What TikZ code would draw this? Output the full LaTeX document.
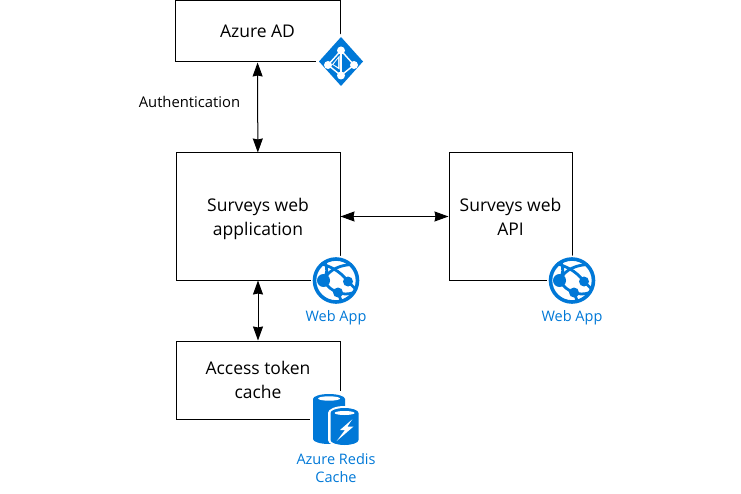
\documentclass[tikz,border=0pt]{standalone}
\usepackage{fontspec}
\setmainfont{Open Sans}
\usetikzlibrary{arrows.meta}
\usetikzlibrary{positioning}
\definecolor{azureblue}{HTML}{0078D7}
\tikzset{
  box node/.style={draw,line width=1pt,fill=white,align=center,font=\fontsize{17.5}{24}\selectfont,inner sep=0pt},
  icon label/.style={text=azureblue,align=center,font=\fontsize{14.5}{18}\selectfont,inner sep=0pt},
  link/.style={{Stealth[length=14pt,width=10pt,inset=1pt]}-{Stealth[length=14pt,width=10pt,inset=1pt]},line width=1pt},
  webapp icon/.pic={
    \fill[white] (0,0) circle (25);
    \draw[azureblue,line width=3.6pt] (0,0) circle (21.5);
    \begin{scope}[azureblue,line width=2.8pt]
      \draw (-12.5,0) .. controls (-9,-7) and (-2,-15) .. (16,-16);
      \draw (-12.5,0) .. controls (-9,-6) and (-8,-13) .. (-11,-18);
      \draw (-15,-17) .. controls (-7,-14) and (3,-11) .. (12,1);
      \draw (-12.5,0) .. controls (-9,6) and (-4,10) .. (2,12);
      \draw (2,12) .. controls (7,14) and (12,14) .. (18,12);
      \draw (2,12) -- (5,20);
      \draw (12,1) -- (19,8);
      \fill (-12.5,0) circle (6.5);
      \fill (12,1) circle (5);
      \fill (2,12) circle (5);
    \end{scope}
  },
  adicon/.pic={
    \fill[white] (0,-28) -- (25,0) -- (0,28) -- (-25,0) -- cycle;
    \fill[azureblue] (0,-24.5) -- (22,0) -- (0,24.5) -- (-22,0) -- cycle;
    \begin{scope}[white,line width=1.4pt]
      \draw (0,-11) -- (-13,3.5) -- (0,14) -- (13,3.5) -- cycle;
      \draw (0,-11) -- (0,14);
      \fill (0,-11) circle (4);
      \fill (-13,3.5) circle (4);
      \fill (13,3.5) circle (4);
      \fill (0,14) circle (4);
      \fill (-1.5,-6) -- (-1.5,8) -- (-9,3) -- cycle;
    \end{scope}
    \fill[azureblue] (-2.9,-3) -- (-2.9,5.5) -- (-7.5,3) -- cycle;
  },
  redis icon/.pic={
    \fill[white] (-25,-28) rectangle (26,28);
    \fill[azureblue] (-22,-20) arc (180:360:16 and 5) -- (10,20) arc (0:180:16 and 5) -- cycle;
    \fill[white] (-17,-20.5) arc (180:360:11 and 2.2) arc (0:180:11 and 2.2);
    \fill[white] (-7,-6) arc (180:360:16.5 and 7) -- (26,21) arc (0:180:16.5 and 7) -- cycle;
    \fill[azureblue] (-4.5,-6) arc (180:360:14 and 5) -- (23.5,21) arc (0:180:14 and 5) -- cycle;
    \fill[white] (-0.5,-6) arc (180:360:10 and 2) arc (0:180:10 and 2);
    \fill[white] (17.3,0.3) -- (5,11) -- (10,11) -- (1.7,22) -- (18.3,7.7) -- (12.3,7.7) -- cycle;
  }
}
\begin{document}
\begin{tikzpicture}[x=1pt,y=-1pt,>=Stealth]
      \useasboundingbox (0,0) rectangle (741,494);
      \node[box node,minimum width=165pt,minimum height=61pt] (ad) at (257.5,31.5) {Azure AD};
      \node[box node,minimum width=164pt,minimum height=127pt] (webapp) at (258,216.5) {Surveys web\\\smash{application}};
      \node[box node,minimum width=123pt,minimum height=127pt] (api) at (510.5,216.5) {Surveys web\\API};
      \node[box node,minimum width=164pt,minimum height=78pt] (cache) at (258,380) {Access token\\cache};

      \draw[link] (ad) -- (webapp);
      \draw[link] (webapp) -- (api);
      \draw[link] (webapp) -- (cache);

      \node[inner sep=0pt,font=\fontsize{14.8}{18}\selectfont] (auth) at (189.5,102) {Authentication};

      \pic at (341,61.5) {adicon};
      \pic at (336,280.5) {webapp icon};
      \pic at (572,280.5) {webapp icon};
      \pic at (335,419) {redis icon};

      \node[icon label] (webapplabel) at (336,317.5) {Web App};
      \node[icon label] (apilabel) at (572,317.5) {Web App};
      \node[icon label] (redislabel) at (336,468) {Azure Redis\\Cache};
\end{tikzpicture}
\end{document}
